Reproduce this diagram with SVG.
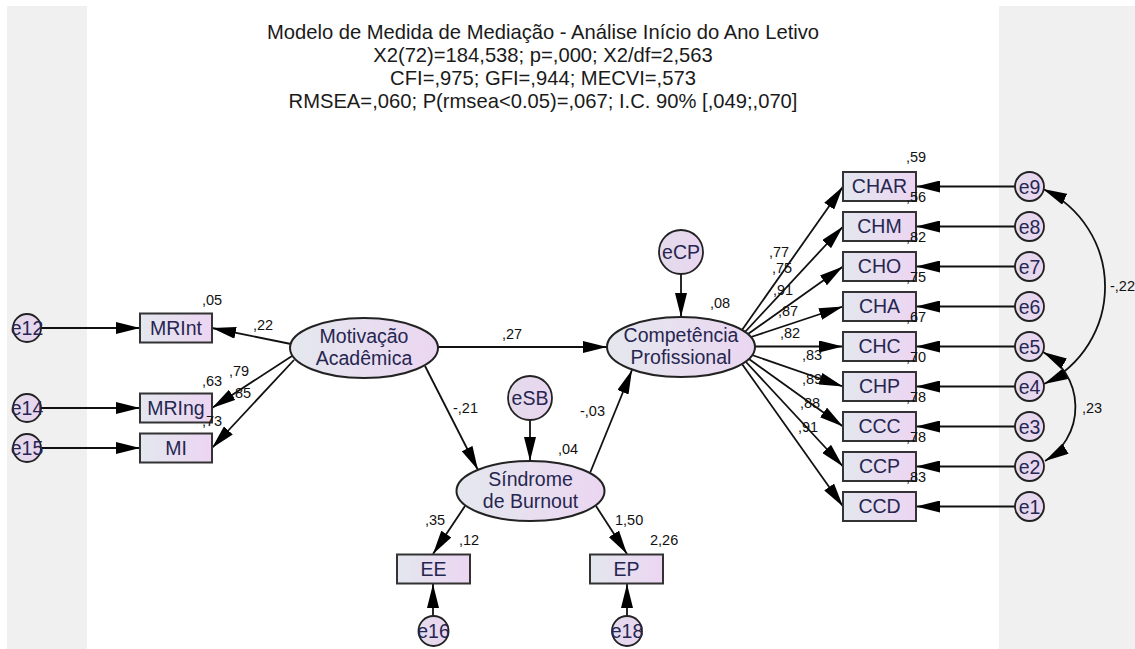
<svg xmlns="http://www.w3.org/2000/svg" width="1135" height="649" viewBox="0 0 1135 649">
  <style>
    .lbl { font-family: "Liberation Sans", Arial, sans-serif; font-size: 19.5px; fill: #262650; text-anchor: middle; }
    .ttl { font-family: "Liberation Sans", Arial, sans-serif; font-size: 20.2px; fill: #1a1a1a; text-anchor: middle; }
    .num { font-family: "Liberation Sans", Arial, sans-serif; font-size: 14.5px; fill: #111; }
    .box { fill: url(#gBox); stroke: #333; stroke-width: 2; }
    .lat { fill: url(#gLat); stroke: #222; stroke-width: 2; }
    .err { fill: url(#gErr); stroke: #222; stroke-width: 1.8; }
    .edge { fill: none; stroke: #111; stroke-width: 1.8; marker-end: url(#ah); }
    .cov { fill: none; stroke: #111; stroke-width: 1.8; marker-start: url(#ah); marker-end: url(#ah); }
  </style>
  <defs>
    <linearGradient id="gBox" x1="0" y1="0" x2="1" y2="0">
      <stop offset="0" stop-color="#e3e7ee"/>
      <stop offset="1" stop-color="#ecd5f2"/>
    </linearGradient>
    <linearGradient id="gLat" x1="0" y1="0" x2="1" y2="0">
      <stop offset="0" stop-color="#e4e8ee"/>
      <stop offset="1" stop-color="#ebd6f1"/>
    </linearGradient>
    <linearGradient id="gErr" x1="0" y1="0" x2="1" y2="0">
      <stop offset="0" stop-color="#e3dcec"/>
      <stop offset="1" stop-color="#ead5ef"/>
    </linearGradient>
    <marker id="ah" viewBox="0 0 24 12" refX="24" refY="6" markerWidth="24" markerHeight="12" markerUnits="userSpaceOnUse" orient="auto-start-reverse">
      <path d="M0,0 L24,6 L0,12 z" fill="#000"/>
    </marker>
  </defs>

  <!-- page background -->
  <rect x="0" y="0" width="1135" height="649" fill="#ffffff"/>
  <rect x="7" y="6" width="80" height="643" fill="#f0f0f0"/>
  <rect x="999" y="6" width="136" height="643" fill="#f0f0f0"/>

  <!-- header -->
  <g id="title">
    <text class="ttl" x="543" y="39">Modelo de Medida de Mediação - Análise Início do Ano Letivo</text>
    <text class="ttl" x="543" y="61.5">X2(72)=184,538; p=,000; X2/df=2,563</text>
    <text class="ttl" x="543" y="84.5">CFI=,975; GFI=,944; MECVI=,573</text>
    <text class="ttl" x="543" y="107.5">RMSEA=,060; P(rmsea&lt;0.05)=,067; I.C. 90% [,049;,070]</text>
  </g>

  <!-- paths, loadings, error terms and covariances -->
  <g id="connectors">
    <line class="edge" x1="41" y1="328" x2="140" y2="328"/>
    <line class="edge" x1="41" y1="408" x2="140" y2="408"/>
    <line class="edge" x1="41" y1="448" x2="140" y2="448"/>
    <line class="edge" x1="291" y1="344" x2="212" y2="328"/>
    <line class="edge" x1="292" y1="356" x2="212" y2="408"/>
    <line class="edge" x1="294" y1="360" x2="212" y2="448"/>
    <line class="edge" x1="438" y1="347" x2="607" y2="347"/>
    <line class="edge" x1="425" y1="366" x2="478" y2="470"/>
    <line class="edge" x1="590" y1="473" x2="632" y2="370"/>
    <line class="edge" x1="530" y1="420" x2="530" y2="461"/>
    <line class="edge" x1="681" y1="274" x2="681" y2="317"/>
    <line class="edge" x1="465" y1="506" x2="433" y2="554"/>
    <line class="edge" x1="596" y1="506" x2="627" y2="554"/>
    <line class="edge" x1="433" y1="617" x2="433" y2="584"/>
    <line class="edge" x1="627" y1="617" x2="627" y2="584"/>
    <line class="edge" x1="742" y1="330" x2="843" y2="186.5"/>
    <line class="edge" x1="745" y1="332" x2="843" y2="226.5"/>
    <line class="edge" x1="748" y1="334" x2="843" y2="266.5"/>
    <line class="edge" x1="751" y1="337" x2="843" y2="306.5"/>
    <line class="edge" x1="755" y1="346.5" x2="843" y2="346.5"/>
    <line class="edge" x1="752" y1="355" x2="843" y2="386.5"/>
    <line class="edge" x1="749" y1="359" x2="843" y2="426.5"/>
    <line class="edge" x1="746" y1="362" x2="843" y2="466.5"/>
    <line class="edge" x1="742" y1="364" x2="843" y2="506.5"/>
    <line class="edge" x1="1015" y1="186.5" x2="916" y2="186.5"/>
    <line class="edge" x1="1015" y1="226.5" x2="916" y2="226.5"/>
    <line class="edge" x1="1015" y1="266.5" x2="916" y2="266.5"/>
    <line class="edge" x1="1015" y1="306.5" x2="916" y2="306.5"/>
    <line class="edge" x1="1015" y1="346.5" x2="916" y2="346.5"/>
    <line class="edge" x1="1015" y1="386.5" x2="916" y2="386.5"/>
    <line class="edge" x1="1015" y1="426.5" x2="916" y2="426.5"/>
    <line class="edge" x1="1015" y1="466.5" x2="916" y2="466.5"/>
    <line class="edge" x1="1015" y1="506.5" x2="916" y2="506.5"/>
    <path class="cov" d="M1043,189 A108,108 0 0,1 1044,384"/>
    <path class="cov" d="M1043,352 A63,63 0 0,1 1045,461"/>
  </g>

  <!-- latent variables -->
  <g id="MotivacaoAcademica">
    <ellipse class="lat" cx="364" cy="348" rx="74" ry="30"/>
    <text class="lbl" x="364" y="343">Motivação</text>
    <text class="lbl" x="364" y="365">Acadêmica</text>
  </g>
  <g id="CompetenciaProfissional">
    <ellipse class="lat" cx="681" cy="347" rx="74" ry="30"/>
    <text class="lbl" x="681" y="342">Competência</text>
    <text class="lbl" x="681" y="364">Profissional</text>
  </g>
  <g id="SindromeBurnout">
    <ellipse class="lat" cx="530.5" cy="491" rx="74" ry="30"/>
    <text class="lbl" x="530.5" y="486">Síndrome</text>
    <text class="lbl" x="530.5" y="508">de Burnout</text>
  </g>

  <!-- disturbances -->
  <g id="eCP"><circle class="err" cx="681" cy="252" r="22"/><text class="lbl" x="681" y="259">eCP</text></g>
  <g id="eSB"><circle class="err" cx="530" cy="398" r="22"/><text class="lbl" x="530" y="405">eSB</text></g>

  <!-- observed indicators -->
  <g id="MRInt"><rect class="box" x="140" y="313.5" width="72" height="29"/><text class="lbl" x="176" y="335">MRInt</text></g>
  <g id="MRIng"><rect class="box" x="140" y="393.5" width="72" height="29"/><text class="lbl" x="176" y="415">MRIng</text></g>
  <g id="MI"><rect class="box" x="140" y="433.5" width="72" height="29"/><text class="lbl" x="176" y="455">MI</text></g>
  <g id="EE"><rect class="box" x="397" y="554.5" width="73" height="29"/><text class="lbl" x="433.5" y="576">EE</text></g>
  <g id="EP"><rect class="box" x="590" y="554.5" width="73" height="29"/><text class="lbl" x="626.5" y="576">EP</text></g>
  <g id="CHAR"><rect class="box" x="843" y="172" width="73" height="29"/><text class="lbl" x="879.5" y="193">CHAR</text></g>
  <g id="CHM"><rect class="box" x="843" y="212" width="73" height="29"/><text class="lbl" x="879.5" y="233">CHM</text></g>
  <g id="CHO"><rect class="box" x="843" y="252" width="73" height="29"/><text class="lbl" x="879.5" y="273">CHO</text></g>
  <g id="CHA"><rect class="box" x="843" y="292" width="73" height="29"/><text class="lbl" x="879.5" y="313">CHA</text></g>
  <g id="CHC"><rect class="box" x="843" y="332" width="73" height="29"/><text class="lbl" x="879.5" y="353">CHC</text></g>
  <g id="CHP"><rect class="box" x="843" y="372" width="73" height="29"/><text class="lbl" x="879.5" y="393">CHP</text></g>
  <g id="CCC"><rect class="box" x="843" y="412" width="73" height="29"/><text class="lbl" x="879.5" y="433">CCC</text></g>
  <g id="CCP"><rect class="box" x="843" y="452" width="73" height="29"/><text class="lbl" x="879.5" y="473">CCP</text></g>
  <g id="CCD"><rect class="box" x="843" y="492" width="73" height="29"/><text class="lbl" x="879.5" y="513">CCD</text></g>

  <!-- measurement errors -->
  <g id="e12"><circle class="err" cx="27" cy="328" r="14"/><text class="lbl" x="27" y="335">e12</text></g>
  <g id="e14"><circle class="err" cx="27" cy="408" r="14"/><text class="lbl" x="27" y="415">e14</text></g>
  <g id="e15"><circle class="err" cx="27" cy="448" r="14"/><text class="lbl" x="27" y="455">e15</text></g>
  <g id="e16"><circle class="err" cx="433.5" cy="631" r="15"/><text class="lbl" x="433.5" y="638">e16</text></g>
  <g id="e18"><circle class="err" cx="627" cy="631" r="15"/><text class="lbl" x="627" y="638">e18</text></g>
  <g id="e9"><circle class="err" cx="1029.5" cy="186.5" r="14.5"/><text class="lbl" x="1029.5" y="193.5">e9</text></g>
  <g id="e8"><circle class="err" cx="1029.5" cy="226.5" r="14.5"/><text class="lbl" x="1029.5" y="233.5">e8</text></g>
  <g id="e7"><circle class="err" cx="1029.5" cy="266.5" r="14.5"/><text class="lbl" x="1029.5" y="273.5">e7</text></g>
  <g id="e6"><circle class="err" cx="1029.5" cy="306.5" r="14.5"/><text class="lbl" x="1029.5" y="313.5">e6</text></g>
  <g id="e5"><circle class="err" cx="1029.5" cy="346.5" r="14.5"/><text class="lbl" x="1029.5" y="353.5">e5</text></g>
  <g id="e4"><circle class="err" cx="1029.5" cy="386.5" r="14.5"/><text class="lbl" x="1029.5" y="393.5">e4</text></g>
  <g id="e3"><circle class="err" cx="1029.5" cy="426.5" r="14.5"/><text class="lbl" x="1029.5" y="433.5">e3</text></g>
  <g id="e2"><circle class="err" cx="1029.5" cy="466.5" r="14.5"/><text class="lbl" x="1029.5" y="473.5">e2</text></g>
  <g id="e1"><circle class="err" cx="1029.5" cy="506.5" r="14.5"/><text class="lbl" x="1029.5" y="513.5">e1</text></g>

  <!-- standardized estimates -->
  <g id="estimates">
    <text class="num" x="202" y="305">,05</text>
    <text class="num" x="253" y="330">,22</text>
    <text class="num" x="202" y="386">,63</text>
    <text class="num" x="229" y="376">,79</text>
    <text class="num" x="231" y="398">,85</text>
    <text class="num" x="202" y="426">,73</text>
    <text class="num" x="502" y="339">,27</text>
    <text class="num" x="453" y="413">-,21</text>
    <text class="num" x="580" y="416">-,03</text>
    <text class="num" x="558" y="454">,04</text>
    <text class="num" x="710" y="308">,08</text>
    <text class="num" x="425" y="525">,35</text>
    <text class="num" x="459" y="545">,12</text>
    <text class="num" x="615" y="525">1,50</text>
    <text class="num" x="650" y="545">2,26</text>
    <text class="num" x="906" y="162">,59</text>
    <text class="num" x="906" y="202">,56</text>
    <text class="num" x="906" y="242">,82</text>
    <text class="num" x="906" y="282">,75</text>
    <text class="num" x="906" y="322">,67</text>
    <text class="num" x="906" y="362">,70</text>
    <text class="num" x="906" y="402">,78</text>
    <text class="num" x="906" y="442">,78</text>
    <text class="num" x="906" y="482">,83</text>
    <text class="num" x="769" y="257">,77</text>
    <text class="num" x="772" y="273">,75</text>
    <text class="num" x="773" y="295">,91</text>
    <text class="num" x="778" y="316">,87</text>
    <text class="num" x="780" y="338">,82</text>
    <text class="num" x="802" y="360">,83</text>
    <text class="num" x="802" y="384">,89</text>
    <text class="num" x="800" y="408">,88</text>
    <text class="num" x="798" y="432">,91</text>
    <text class="num" x="1110" y="291">-,22</text>
    <text class="num" x="1082" y="413">,23</text>
  </g>
</svg>
